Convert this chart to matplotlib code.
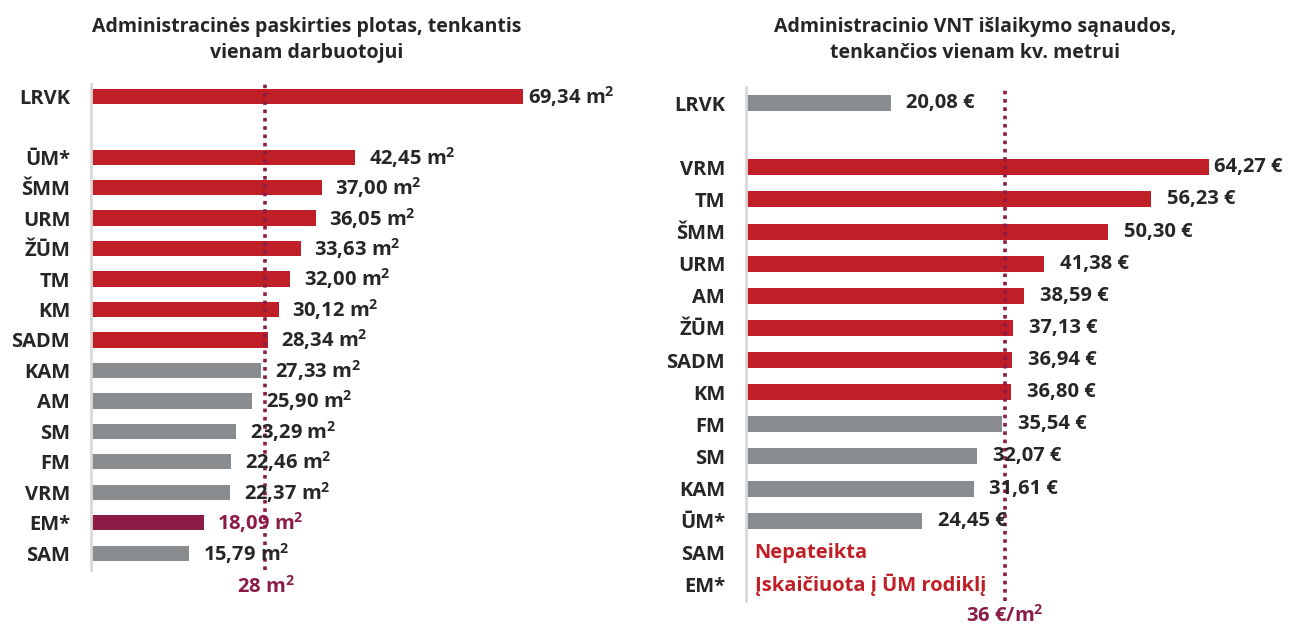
import matplotlib
matplotlib.use("Agg")
import matplotlib.pyplot as plt

plt.rcParams['font.family'] = ['Open Sans', 'DejaVu Sans']
plt.rcParams['font.weight'] = 'bold'
plt.rcParams['mathtext.fontset'] = 'custom'
plt.rcParams['mathtext.rm'] = 'Open Sans:bold'
plt.rcParams['mathtext.bf'] = 'Open Sans:bold'
plt.rcParams['mathtext.it'] = 'Open Sans:bold'

# ---- data ----
left_title = "Administracinės paskirties plotas, tenkantis\nvienam darbuotojui"
left_labels = ["LRVK", "", "ŪM*", "ŠMM", "URM", "ŽŪM", "TM", "KM", "SADM",
               "KAM", "AM", "SM", "FM", "VRM", "EM*", "SAM"]
left_values = [69.34, None, 42.45, 37.00, 36.05, 33.63, 32.00, 30.12, 28.34,
               27.33, 25.90, 23.29, 22.46, 22.37, 18.09, 15.79]
left_kind = ["r", None, "r", "r", "r", "r", "r", "r", "r",
             "g", "g", "g", "g", "g", "m", "g"]
left_ref = 28
left_ref_label = "28 m$^{2}$"

right_title = "Administracinio VNT išlaikymo sąnaudos,\ntenkančios vienam kv. metrui"
right_labels = ["LRVK", "", "VRM", "TM", "ŠMM", "URM", "AM", "ŽŪM", "SADM",
                "KM", "FM", "SM", "KAM", "ŪM*", "SAM", "EM*"]
right_values = [20.08, None, 64.27, 56.23, 50.30, 41.38, 38.59, 37.13, 36.94,
                36.80, 35.54, 32.07, 31.61, 24.45, None, None]
right_kind = ["g", None, "r", "r", "r", "r", "r", "r", "r",
              "r", "g", "g", "g", "g", None, None]
right_notes = {"SAM": "Nepateikta", "EM*": "Įskaičiuota į ŪM rodiklį"}
right_ref = 36
right_ref_label = "36 €/m$^{2}$"

RED = "#C01F27"
GRAY = "#8A8D90"
MAROON = "#8B1C45"
TXT = "#262626"
colors = {"r": RED, "g": GRAY, "m": MAROON}

FS = 14.5
TFS = 14

W, H = 1296, 624
fig = plt.figure(figsize=(W / 100, H / 100), dpi=100)


def px_axes(x0, y0, x1, y1):
    return fig.add_axes([x0 / W, 1 - y1 / H, (x1 - x0) / W, (y1 - y0) / H])


def draw(ax, labels, values, kinds, ref, xmax, ylim):
    n = len(labels)
    ys = list(range(n))
    for y, v, k in zip(ys, values, kinds):
        if v is None:
            continue
        ax.barh(y, v, height=0.5, color=colors[k], zorder=2)
    ax.set_xlim(0, xmax)
    ax.set_ylim(*ylim)
    ax.set_yticks(ys)
    ax.set_yticklabels(labels, fontsize=FS, color=TXT, fontweight='bold')
    ax.tick_params(axis='y', length=0, pad=15)
    ax.set_xticks([])
    for s in ["top", "right", "bottom"]:
        ax.spines[s].set_visible(False)
    ax.spines["left"].set_color("#D9D9D9")
    ax.spines["left"].set_linewidth(2)
    ax.axvline(ref, color=MAROON, lw=2.6, ls=(0, (1, 1.3)), zorder=3)
    return ys


# Left chart
axL = px_axes(91, 84, 591, 570)
ysL = draw(axL, left_labels, left_values, left_kind, left_ref,
           500 / 6.23, (15.55, -0.4))
for y, v, k in zip(ysL, left_values, left_kind):
    if v is None:
        continue
    off = 0.8 if y == 0 else 2.2
    axL.text(v + off, y, f"{v:.2f}".replace(".", ",") + " m$^{2}$", va="center",
             ha="left", fontsize=FS, fontweight="bold",
             color=MAROON if k == "m" else TXT, zorder=4)
axL.text(left_ref, 16.1, left_ref_label, ha="center", va="center", fontsize=FS,
         fontweight="bold", color=MAROON, clip_on=False)
fig.text(307 / W, 1 - 40 / H, left_title, ha="center", va="center", fontsize=TFS,
         fontweight="bold", color=TXT, linespacing=1.45)

# Right chart
axR = px_axes(746, 87, 1290, 601)
ysR = draw(axR, right_labels, right_values, right_kind, right_ref,
           544 / 7.2, (15.5, -0.5))
for y, v, k, lab in zip(ysR, right_values, right_kind, right_labels):
    if v is None:
        if lab in right_notes:
            axR.text(1.2, y, right_notes[lab], va="center", ha="left",
                     fontsize=FS, fontweight="bold", color=RED)
        continue
    off = 0.7 if y == 2 else 2.2
    axR.text(v + off, y, f"{v:.2f}".replace(".", ",") + " €", va="center",
             ha="left", fontsize=FS, fontweight="bold", color=TXT, zorder=4)
axR.text(right_ref, 15.95, right_ref_label, ha="center", va="center", fontsize=FS,
         fontweight="bold", color=MAROON, clip_on=False)
fig.text(975 / W, 1 - 40 / H, right_title, ha="center", va="center", fontsize=TFS,
         fontweight="bold", color=TXT, linespacing=1.45)

fig.savefig("out.png", dpi=100)
